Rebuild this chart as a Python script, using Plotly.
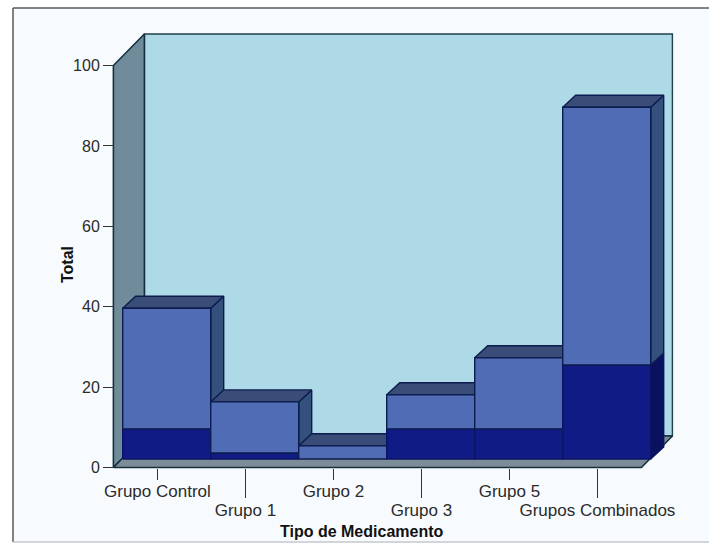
import plotly.graph_objects as go

# Treatment groups and their counts; each bar has a darker lower segment.
categories = ["Grupo Control", "Grupo 1", "Grupo 2", "Grupo 3", "Grupo 5", "Grupos Combinados"]
totals = [37.5, 14.2, 3.3, 16, 25.2, 87.5]
lower_segment = [7.5, 1.5, 0, 7.5, 7.5, 23.4]
y_ticks = [0, 20, 40, 60, 80, 100]

WIDTH, HEIGHT = 709, 546
PX_X = 88.0      # pixels per category
PX_Y = 4.02      # pixels per count
ORIGIN_X = 157.4
ORIGIN_Y = 467.5

X_RANGE = [-ORIGIN_X / PX_X, (WIDTH - ORIGIN_X) / PX_X]
Y_RANGE = [-(HEIGHT - ORIGIN_Y) / PX_Y, ORIGIN_Y / PX_Y]

# Oblique projection offsets, in data units
ROOM_DX, ROOM_DY = 31 / PX_X, 31.5 / PX_Y
INSET_DX, INSET_DY = 9.3 / PX_X, 8.5 / PX_Y
BAR_DX, BAR_DY = 13 / PX_X, 12 / PX_Y

LEFT, RIGHT = -0.5, 5.5
EDGE = "#0d1c4e"
DARK_EDGE = "#0b1462"
TEXT = "#2b2b2b"
FONT = "Liberation Sans, Arial, sans-serif"

fig = go.Figure()


def face(xs, ys, fill, line=EDGE, width=1.4):
    fig.add_trace(go.Scatter(
        x=xs + xs[:1], y=ys + ys[:1], mode="lines", fill="toself", fillcolor=fill,
        line=dict(color=line, width=width), hoverinfo="skip", showlegend=False,
    ))


# Room: back wall, left wall and floor
face([LEFT + ROOM_DX, RIGHT + ROOM_DX, RIGHT + ROOM_DX, LEFT + ROOM_DX],
     [ROOM_DY, ROOM_DY, 100 + ROOM_DY, 100 + ROOM_DY], "#aed9e7", "#21404f", 1.4)
face([LEFT, LEFT + ROOM_DX, LEFT + ROOM_DX, LEFT],
     [0, ROOM_DY, 100 + ROOM_DY, 100], "#708c9b", "#14303f", 1.6)
face([LEFT, RIGHT, RIGHT + ROOM_DX, LEFT + ROOM_DX],
     [0, 0, ROOM_DY, ROOM_DY], "#7c8d99", "#14303f", 1.6)


def segment(i, low, high, front, side, top, edge=EDGE):
    """One block of a bar: side and top first, then the front face."""
    x0 = LEFT + i + INSET_DX
    x1 = x0 + 1
    y0 = INSET_DY + low
    y1 = INSET_DY + high
    face([x1, x1 + BAR_DX, x1 + BAR_DX, x1],
         [y0, y0 + BAR_DY, y1 + BAR_DY, y1], side, edge)
    face([x0, x1, x1 + BAR_DX, x0 + BAR_DX],
         [y1, y1, y1 + BAR_DY, y1 + BAR_DY], top, edge)
    face([x0, x1, x1, x0], [y0, y0, y1, y1], front, edge)


# Bars are painted left to right so each one hides the side of its neighbour;
# the lower block goes first so its top stays inside the block above it
for i, (total, lower) in enumerate(zip(totals, lower_segment)):
    if lower > 0:
        segment(i, 0, lower, "#101b85", "#0a1260", "#0a1260", DARK_EDGE)
    segment(i, lower, total, "#4f6cb4", "#34507c", "#3a4d78")

fig.update_layout(
    width=WIDTH, height=HEIGHT,
    margin=dict(l=0, r=0, t=0, b=0),
    paper_bgcolor="white", plot_bgcolor="rgba(0,0,0,0)",
    showlegend=False,
    font=dict(family=FONT, size=16, color=TEXT),
    xaxis=dict(
        range=X_RANGE, domain=[0, 1], anchor="free", position=1 - ORIGIN_Y / HEIGHT,
        tickmode="array", tickvals=[0, 2, 4], ticktext=categories[0::2],
        ticks="outside", ticklen=11, tickwidth=1.3, tickcolor="#333333",
        tickfont=dict(size=17), ticklabelstandoff=-3,
        showgrid=False, zeroline=False, showline=False,
    ),
    xaxis2=dict(
        range=X_RANGE, domain=[0, 1], overlaying="x", side="bottom",
        anchor="free", position=1 - ORIGIN_Y / HEIGHT,
        tickmode="array", tickvals=[1, 3, 5], ticktext=categories[1::2],
        ticks="outside", ticklen=29, tickwidth=1.3, tickcolor="#333333",
        tickfont=dict(size=17), ticklabelstandoff=-2,
        showgrid=False, zeroline=False, showline=False,
    ),
    yaxis=dict(
        range=Y_RANGE, domain=[0, 1], anchor="free", position=114 / WIDTH,
        tickmode="array", tickvals=y_ticks,
        ticks="outside", ticklen=11, tickwidth=1.3, tickcolor="#333333",
        showgrid=False, zeroline=False, showline=False,
    ),
    shapes=[
        dict(type="rect", xref="paper", yref="paper", layer="below",
             x0=13 / WIDTH, x1=1, y0=1 - 542 / HEIGHT, y1=1 - 8 / HEIGHT,
             fillcolor="#f7fbfe", line=dict(width=0)),
        dict(type="line", xref="paper", yref="paper", layer="below",
             x0=13 / WIDTH, x1=1, y0=1 - 8 / HEIGHT, y1=1 - 8 / HEIGHT,
             line=dict(color="#5a5a5a", width=1.5)),
        dict(type="line", xref="paper", yref="paper", layer="below",
             x0=13 / WIDTH, x1=13 / WIDTH, y0=1 - 542 / HEIGHT, y1=1 - 8 / HEIGHT,
             line=dict(color="#5a5a5a", width=1.5)),
        dict(type="line", xref="paper", yref="paper", layer="below",
             x0=13 / WIDTH, x1=1, y0=1 - 542 / HEIGHT, y1=1 - 542 / HEIGHT,
             line=dict(color="#c4c8cc", width=1.5)),
    ],
    annotations=[
        dict(text="<b>Tipo de Medicamento</b>", xref="paper", yref="paper",
             x=362 / WIDTH, y=1 - 531.5 / HEIGHT, showarrow=False,
             xanchor="center", yanchor="middle", font=dict(size=16, color="#111111")),
        dict(text="<b>Total</b>", xref="paper", yref="paper",
             x=67 / WIDTH, y=1 - 265 / HEIGHT, showarrow=False, textangle=-90,
             xanchor="center", yanchor="middle", font=dict(size=16, color="#111111")),
    ],
)

# An empty trace keeps the second x axis, which carries the staggered labels, on the page
fig.add_trace(go.Scatter(x=[None], y=[None], xaxis="x2", yaxis="y", hoverinfo="skip", showlegend=False))

fig.write_html("out.html")
